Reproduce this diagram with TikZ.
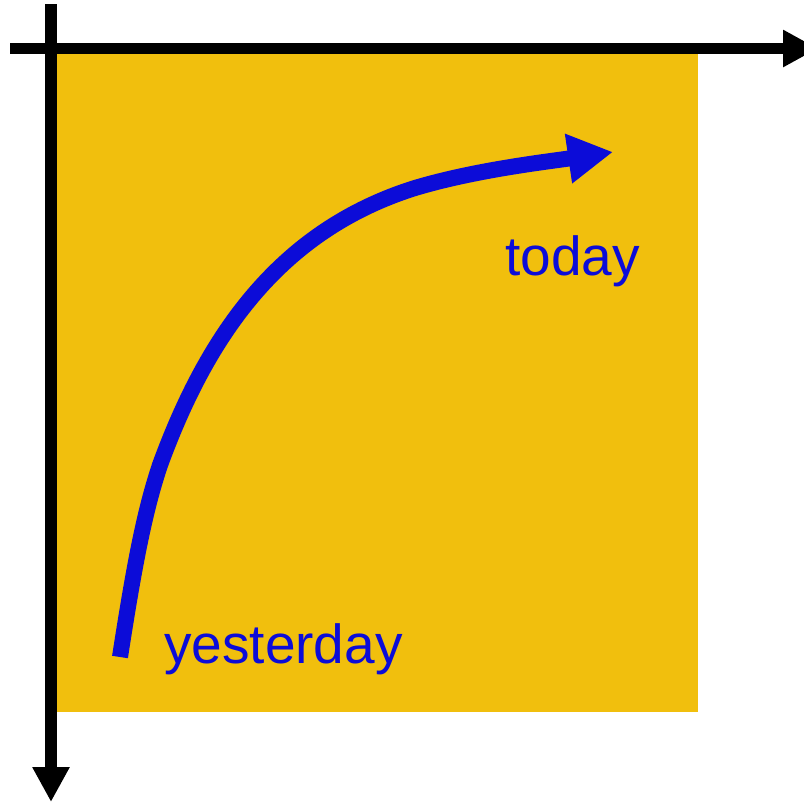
\documentclass[tikz,border=0pt]{standalone}
\usepackage{fontspec}
\setmainfont{Liberation Sans}
\usetikzlibrary{arrows.meta}
\definecolor{sand}{RGB}{241,191,13}
\definecolor{ink}{RGB}{12,12,216}

\begin{document}
\begin{tikzpicture}[x=1pt,y=-1pt,
    axis/.style={line width=11.5pt, -{Triangle[length=35pt,width=35pt]}},
    trend/.style={ink, line width=16pt, -{Triangle[length=45pt,width=47pt]}},
    lbl/.style={ink, font=\fontsize{55}{60}\selectfont, inner sep=0pt, anchor=base west}
]
    \useasboundingbox (0,0) rectangle (804,804);
    \fill[sand] (57,54) rectangle (698,712);

    % axes
    \coordinate (xstart) at (10,48.5);
    \coordinate (xend) at (818,48.5);
    \coordinate (ystart) at (51,4);
    \coordinate (yend) at (51,802);
    \draw[axis] (xstart) -- (xend);
    \draw[axis] (ystart) -- (yend);

    \node[lbl] (today) at (505,275) {today};
    \node[lbl] (yesterday) at (164,663) {yesterday};

    \coordinate (past) at (120,657);
    \coordinate (now) at (613,152);
    \draw[trend] (past) .. controls (135,560) and (145,510) .. (160,465)
        .. controls (205,342) and (275,232) .. (415,188)
        .. controls (475,170) and (545,162) .. (now);
\end{tikzpicture}
\end{document}
